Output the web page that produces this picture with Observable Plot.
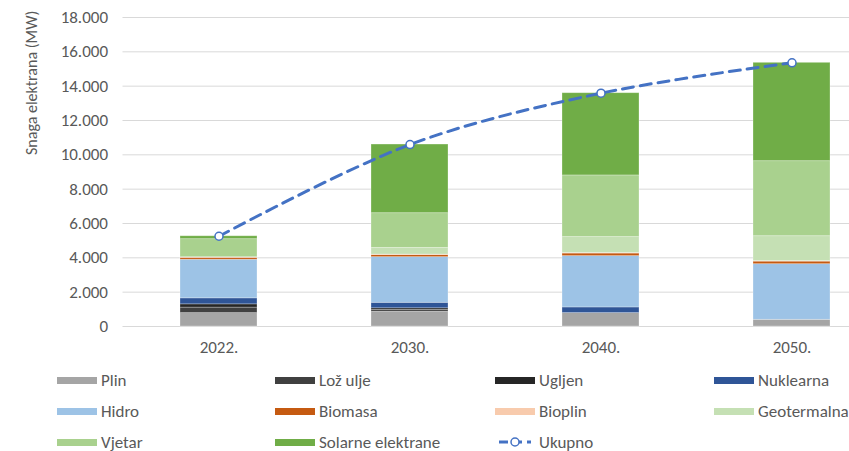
<!DOCTYPE html>
<html>
<head>
<meta charset="utf-8">
<script src="https://cdn.jsdelivr.net/npm/d3@7"></script>
<script src="https://cdn.jsdelivr.net/npm/@observablehq/plot@0.6"></script>
<style>
  html, body { margin: 0; padding: 0; background: #fff; }
  #wrap { width: 849px; height: 451px; overflow: hidden; position: relative; font-family: Carlito, Lato, sans-serif; }
  #legend { position: relative; width: 849px; height: 89px; }
  .item { position: absolute; display: flex; align-items: center; font-size: 17px; color: #595959; white-space: nowrap; }
  .sw { width: 40px; height: 7px; margin-right: 4px; }
</style>
</head>
<body>
<div id="wrap">
  <div id="chart"></div>
  <div id="legend"></div>
</div>
<script>
// Installed capacity by source (MW)
const years = ["2022.", "2030.", "2040.", "2050."];
const plin        = [780, 860, 780, 390];
const lozUlje     = [320, 100, 0, 0];
const ugljen      = [190, 100, 0, 0];
const nuklearna   = [350, 320, 330, 0];
const hidro       = [2250, 2660, 2990, 3240];
const biomasa     = [110, 120, 150, 150];
const bioplin     = [20, 30, 30, 30];
const geotermalna = [17, 390, 930, 1450];
const vjetar      = [1050, 2020, 3590, 4370];
const solarne     = [170, 4000, 4790, 5730];

const seriesNames  = ["Plin", "Lož ulje", "Ugljen", "Nuklearna", "Hidro", "Biomasa", "Bioplin", "Geotermalna", "Vjetar", "Solarne elektrane"];
const seriesValues = [plin, lozUlje, ugljen, nuklearna, hidro, biomasa, bioplin, geotermalna, vjetar, solarne];
const seriesColors = ["#A5A5A5", "#404040", "#262626", "#2F5597", "#9DC3E6", "#C55A11", "#F8CBAD", "#C5E0B4", "#A9D18E", "#70AD47"];
const totalName = "Ukupno";
const totalColor = "#4472C4";

const yTicks = [0, 2000, 4000, 6000, 8000, 10000, 12000, 14000, 16000, 18000];
const yTitle = "Snaga elektrana (MW)";

// long table for stacking, bottom-up in series order
const rows = years.flatMap((year, i) =>
  seriesNames.map((name, k) => ({year, source: name, value: seriesValues[k][i]})));
const totals = years.map((year, i) => ({year, value: d3.sum(seriesValues, v => v[i])}));

const fmt = d3.formatLocale({decimal: ",", thousands: ".", grouping: [3], currency: ["", ""]}).format(",");

const chart = Plot.plot({
  width: 849,
  height: 362,
  marginLeft: 122.5,
  marginRight: 0,
  marginTop: 17,
  marginBottom: 36,
  style: {fontFamily: "Carlito, Lato, sans-serif", fontSize: "17px", color: "#595959", background: "#fff", overflow: "visible"},
  x: {type: "band", domain: years, range: [122.5, 886.5], paddingInner: 0.597, paddingOuter: 0.2985,
      label: null, tickSize: 0, tickPadding: 14},
  y: {domain: [0, 18000], ticks: yTicks, tickFormat: fmt, tickSize: 0, tickPadding: 15, label: null},
  color: {domain: seriesNames, range: seriesColors},
  marks: [
    Plot.ruleY(yTicks, {stroke: "#D9D9D9", strokeWidth: 1}),
    Plot.barY(rows, {x: "year", y: "value", fill: "source", z: "source", stroke: "#fff", strokeOpacity: 0.35, strokeWidth: 0.8}),
    Plot.line(totals, {x: "year", y: "value", stroke: totalColor, strokeWidth: 3, strokeDasharray: "11,7", curve: "catmull-rom"}),
    Plot.dot(totals, {x: "year", y: "value", r: 4, fill: "#fff", stroke: totalColor, strokeWidth: 1.5}),
    Plot.text([yTitle], {frameAnchor: "left", text: d => d, rotate: -90, dx: -91, dy: -17, fontSize: 16, fill: "#595959"})
  ]
});
document.getElementById("chart").appendChild(chart);

// legend below the plot
const legend = document.getElementById("legend");
const cols = [57, 275, 495, 714];
const rowsY = [18, 49, 80];
const entries = seriesNames.map((n, k) => ({name: n, color: seriesColors[k]})).concat([{name: totalName, color: totalColor, line: true}]);
entries.forEach((e, i) => {
  const div = document.createElement("div");
  div.className = "item";
  div.style.left = cols[i % 4] + "px";
  div.style.top = (rowsY[Math.floor(i / 4)] - 10) + "px";
  div.style.height = "20px";
  if (e.line) {
    const ns = "http://www.w3.org/2000/svg";
    const s = document.createElementNS(ns, "svg");
    s.setAttribute("width", 40); s.setAttribute("height", 12);
    s.style.marginRight = "4px";
    const l1 = document.createElementNS(ns, "line");
    l1.setAttribute("x1", 4); l1.setAttribute("x2", 36); l1.setAttribute("y1", 6); l1.setAttribute("y2", 6);
    l1.setAttribute("stroke", e.color); l1.setAttribute("stroke-width", 3); l1.setAttribute("stroke-dasharray", "9,5");
    const c = document.createElementNS(ns, "circle");
    c.setAttribute("cx", 20); c.setAttribute("cy", 6); c.setAttribute("r", 4);
    c.setAttribute("fill", "#fff"); c.setAttribute("stroke", e.color); c.setAttribute("stroke-width", 1.5);
    s.appendChild(l1); s.appendChild(c);
    div.appendChild(s);
  } else {
    const sw = document.createElement("span");
    sw.className = "sw";
    sw.style.background = e.color;
    div.appendChild(sw);
  }
  const t = document.createElement("span");
  t.textContent = e.name;
  div.appendChild(t);
  legend.appendChild(div);
});
</script>
</body>
</html>
